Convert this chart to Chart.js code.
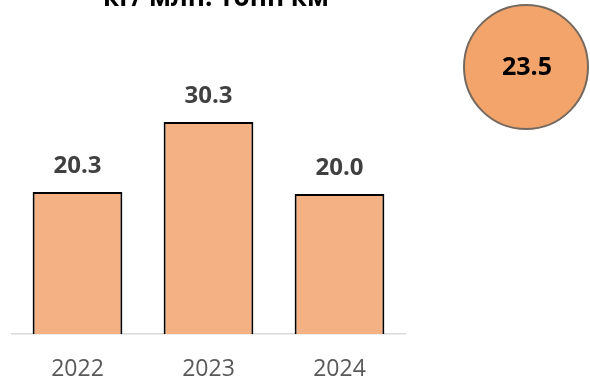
<html lang="ru">
<head>
  <meta charset="utf-8">
  <script src="https://cdn.jsdelivr.net/npm/chart.js"></script>
  <style>
    html, body { margin: 0; padding: 0; background: #fff; }
  </style>
</head>
<body>
  <canvas id="graphique" width="590" height="381"></canvas>

  <script>
    // données
    const annees = ['2022', '2023', '2024'];
    const valeurs = [20.3, 30.3, 20.0];
    const moyenne = 23.5;
    const titre = 'кг/ млн. тонн км';

    const police = "'Open Sans', 'DejaVu Sans', sans-serif";

    // titre, étiquettes et cercle de la moyenne
    const dessins = {
      id: 'dessins',
      afterDatasetsDraw(chart) {
        const ctx = chart.ctx;
        ctx.save();

        // titre (coupé en haut)
        ctx.fillStyle = '#000';
        ctx.font = 'bold 26px ' + police;
        ctx.textAlign = 'center';
        ctx.textBaseline = 'alphabetic';
        ctx.fillText(titre, 216, 6);

        // valeurs au-dessus des barres
        const meta = chart.getDatasetMeta(0);
        ctx.fillStyle = '#404040';
        ctx.font = 'bold 24px ' + police;
        meta.data.forEach((bar, i) => {
          ctx.fillText(valeurs[i].toFixed(1), bar.x, bar.y - 19);
        });

        // cercle
        ctx.beginPath();
        ctx.arc(526, 67, 62, 0, Math.PI * 2);
        ctx.fillStyle = '#F2A46B';
        ctx.fill();
        ctx.lineWidth = 2;
        ctx.strokeStyle = '#75695F';
        ctx.stroke();
        ctx.fillStyle = '#000';
        ctx.font = 'bold 25px ' + police;
        ctx.textBaseline = 'middle';
        ctx.fillText(moyenne.toFixed(1), 527, 68);

        ctx.restore();
      }
    };

    new Chart(document.getElementById('graphique'), {
      type: 'bar',
      data: {
        labels: annees,
        datasets: [{
          data: valeurs,
          backgroundColor: '#F4B183',
          borderColor: '#000',
          borderWidth: 2,
          barPercentage: 0.685,
          categoryPercentage: 1
        }]
      },
      options: {
        responsive: false,
        animation: false,
        layout: {
          padding: { top: 54, left: 12, right: 185, bottom: 0 }
        },
        plugins: {
          legend: { display: false },
          tooltip: { enabled: false }
        },
        scales: {
          x: {
            grid: { display: false, drawTicks: false },
            border: { display: true, color: '#D9D9D9', width: 1.5 },
            ticks: {
              padding: 22,
              color: '#595959',
              font: { family: police, size: 23 }
            },
            afterFit(scale) {
              scale.height = 47;
            }
          },
          y: {
            display: false,
            min: 0,
            max: 40
          }
        }
      },
      plugins: [dessins]
    });
  </script>
</body>
</html>
